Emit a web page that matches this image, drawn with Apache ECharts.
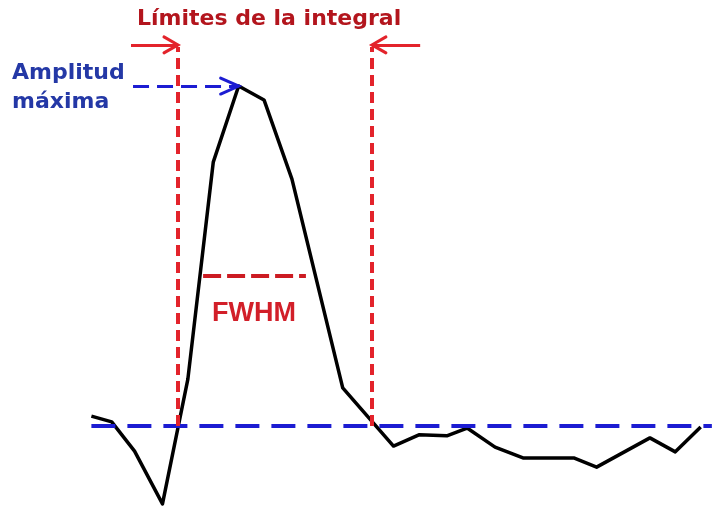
<!DOCTYPE html>
<html>
<head>
<meta charset="utf-8">
<script src="https://cdn.jsdelivr.net/npm/echarts@6/dist/echarts.min.js"></script>
<style>
  html, body { margin: 0; padding: 0; background: #ffffff; }
  #chart { width: 721px; height: 511px; }
</style>
</head>
<body>
<div id="chart"></div>
<script>
// Pulse samples: time in sample units, amplitude normalised to the peak (= 100)
const timeSamples = [0, 0.8, 1.7, 2.8, 3.8, 4.8, 5.8, 6.8, 7.9, 9.9, 11.9, 12.9, 14.0, 14.8, 15.9, 17.0, 19.0, 19.9, 22.0, 23.0, 24.0];
const amplitude   = [2.9, 1.2, -7.4, -22.9, 13.8, 77.6, 100, 95.9, 72.6, 11.2, -5.9, -2.6, -2.9, -0.6, -6.2, -9.4, -9.4, -12.1, -3.5, -7.6, -0.3];

// Annotation levels (data units)
const baselineLevel = 0;
const baselineEnd = 24.44;
const integralLimits = [3.41, 11.05];
const limitsTop = 111.5;
const limitArrowLevel = 112.1;
const limitArrowStart = [1.56, 12.95];
const amplitudeArrowStart = 1.64;
const fwhmLevel = 44.1;
const fwhmRange = [4.40, 8.45];

// Text labels
const titleText = 'Límites de la integral';
const amplitudeText = ['Amplitud', 'máxima'];
const fwhmText = 'FWHM';

const peakIndex = amplitude.indexOf(Math.max(...amplitude));
const peakPoint = [timeSamples[peakIndex], amplitude[peakIndex]];
const pulse = timeSamples.map((t, i) => [t, amplitude[i]]);

const RED = '#e3232b';
const DARK_RED = '#b3151d';
const BLUE = '#1c1cd2';
const TEXT_BLUE = '#2438a6';

const chart = echarts.init(document.getElementById('chart'), null, { renderer: 'canvas' });

const option = {
  backgroundColor: '#ffffff',
  animation: false,
  grid: { left: 0, right: 0, top: 0, bottom: 0 },
  xAxis: { type: 'value', min: -3.6, max: 24.8, show: false },
  yAxis: { type: 'value', min: -25, max: 125.3, show: false },
  series: [
    {
      type: 'line',
      data: pulse,
      symbol: 'none',
      z: 2,
      lineStyle: { color: '#000000', width: 3.5, join: 'round' }
    },
    {
      // annotation layer
      type: 'line',
      data: [],
      z: 3,
      markLine: {
        silent: true,
        symbol: ['none', 'none'],
        label: { show: false },
        animation: false,
        data: [
          // baseline
          [
            { coord: [0, baselineLevel], lineStyle: { color: BLUE, width: 4, type: [24, 12] } },
            { coord: [baselineEnd, baselineLevel] }
          ],
          // integral limits
          [
            { coord: [integralLimits[0], baselineLevel], lineStyle: { color: RED, width: 4, type: [11, 6] } },
            { coord: [integralLimits[0], limitsTop] }
          ],
          [
            { coord: [integralLimits[1], baselineLevel], lineStyle: { color: RED, width: 4, type: [11, 6] } },
            { coord: [integralLimits[1], limitsTop] }
          ],
          // arrow shafts pointing at the limits
          [
            { coord: [limitArrowStart[0], limitArrowLevel], lineStyle: { color: RED, width: 3, type: 'solid' } },
            { coord: [integralLimits[0], limitArrowLevel] }
          ],
          [
            { coord: [limitArrowStart[1], limitArrowLevel], lineStyle: { color: RED, width: 3, type: 'solid' } },
            { coord: [integralLimits[1], limitArrowLevel] }
          ],
          // maximum amplitude arrow shaft
          [
            { coord: [amplitudeArrowStart, peakPoint[1]], lineStyle: { color: BLUE, width: 3, type: [16, 8] } },
            { coord: peakPoint }
          ],
          // FWHM
          [
            { coord: [fwhmRange[0], fwhmLevel], lineStyle: { color: '#cc1b22', width: 4, type: [18, 6] } },
            { coord: [fwhmRange[1], fwhmLevel] }
          ]
        ]
      }
    }
  ]
};

chart.setOption(option);

// Open chevron arrow heads, placed through the axis scales
function chevron(tip, dir, len, half, color) {
  return {
    type: 'polyline',
    z: 10,
    silent: true,
    shape: { points: [[tip[0] - dir * len, tip[1] - half], tip, [tip[0] - dir * len, tip[1] + half]] },
    style: { stroke: color, lineWidth: 3, fill: null, lineJoin: 'miter', lineCap: 'round' }
  };
}

const leftTip = chart.convertToPixel({ seriesIndex: 0 }, [integralLimits[0], limitArrowLevel]);
const rightTip = chart.convertToPixel({ seriesIndex: 0 }, [integralLimits[1], limitArrowLevel]);
const peakTip = chart.convertToPixel({ seriesIndex: 0 }, peakPoint);

chart.setOption({
  graphic: [
    chevron(leftTip, 1, 14, 8, RED),
    chevron(rightTip, -1, 14, 8, RED),
    chevron(peakTip, 1, 18, 8, BLUE),
    {
      type: 'text', left: 137, top: 8, z: 10,
      style: { text: titleText, fill: DARK_RED, font: 'bold 22px "DejaVu Sans"' }
    },
    {
      type: 'text', left: 12, top: 59, z: 10,
      style: { text: amplitudeText.join('\n'), fill: TEXT_BLUE, font: 'bold 22px "DejaVu Sans"', lineHeight: 29 }
    },
    {
      type: 'text', left: 212, top: 300, z: 10,
      style: { text: fwhmText, fill: '#d21f29', font: 'bold 27px "Liberation Sans"' }
    }
  ]
});
</script>
</body>
</html>
